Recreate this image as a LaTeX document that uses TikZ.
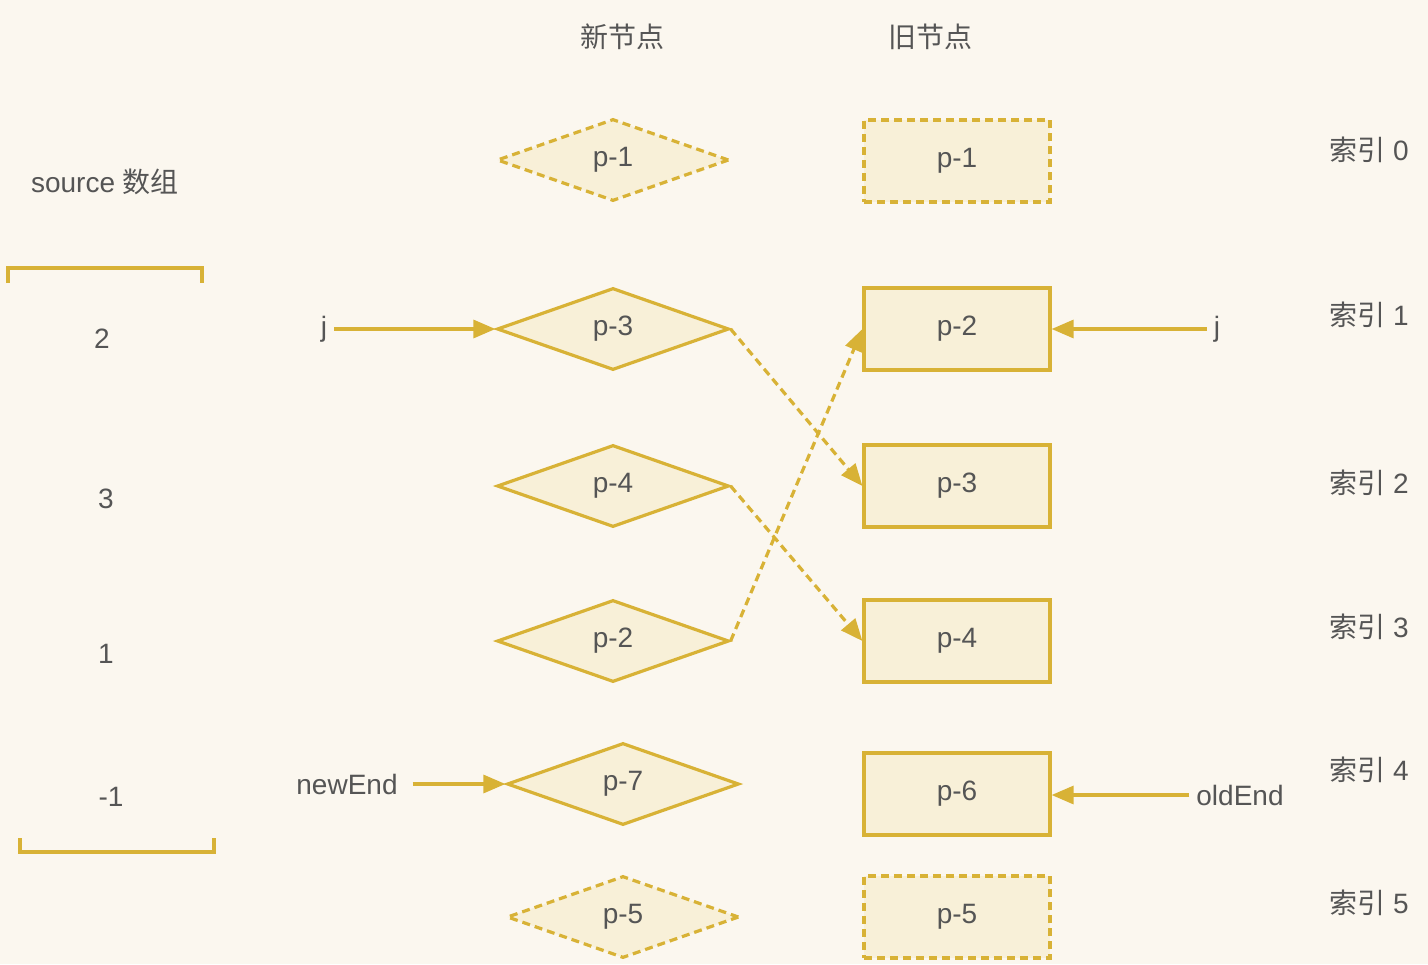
\documentclass[tikz,border=0pt]{standalone}
\usepackage{fontspec}
\setmainfont{Liberation Sans}
\newfontfamily\cjk{Noto Sans CJK SC}
\usetikzlibrary{shapes.geometric,arrows.meta}
\definecolor{bgcream}{HTML}{FBF7EF}
\definecolor{nodeline}{HTML}{D8B236}
\definecolor{nodefill}{HTML}{F8F0D8}
\definecolor{labelgray}{HTML}{555555}
\begin{document}
\begin{tikzpicture}[x = 0.5pt, y = -0.5pt,
        every node/.style = {text = labelgray, font = \fontsize{14}{16}\selectfont},
        newnode/.style = {diamond, draw = nodeline, fill = nodefill, line width = 1.6pt,
                aspect = 2.83, minimum width = 116pt, minimum height = 41pt, inner sep = 0pt},
        oldnode/.style = {rectangle, draw = nodeline, fill = nodefill, line width = 1.6pt,
                minimum width = 93pt, minimum height = 41pt},
        ghost/.style = {dash pattern = on 4pt off 2.5pt},
        pointer/.style = {draw = nodeline, line width = 1.6pt, -{Triangle[length = 11pt, width = 9pt]}},
        move/.style = {pointer, ghost}]

        \fill[bgcream] (0, 0) rectangle (1428, 964);
        \useasboundingbox (0, 0) rectangle (1428, 964);

        \node (newtitle) at (622, 37) {\cjk 新节点};
        \node (oldtitle) at (930, 37) {\cjk 旧节点};

        % new children
        \node[newnode, ghost] (n1) at (613, 160) {p-1};
        \node[newnode] (n3) at (613, 329) {p-3};
        \node[newnode] (n4) at (613, 486) {p-4};
        \node[newnode] (n2) at (613, 641) {p-2};
        \node[newnode] (n7) at (623, 784) {p-7};
        \node[newnode, ghost] (n5) at (623, 917) {p-5};

        % old children
        \node[oldnode, ghost] (o1) at (957, 161) {p-1};
        \node[oldnode] (o2) at (957, 329) {p-2};
        \node[oldnode] (o3) at (957, 486) {p-3};
        \node[oldnode] (o4) at (957, 641) {p-4};
        \node[oldnode] (o6) at (957, 794) {p-6};
        \node[oldnode, ghost] (o5) at (957, 917) {p-5};

        \foreach \i/\y in {0/150, 1/315, 2/483, 3/627, 4/770, 5/903}{
                \node (idx\i) at (1369, \y) {{\cjk 索引} \i};
            }

        % source array
        \node (srctitle) at (105, 182) {source {\cjk 数组}};
        \draw[nodeline, line width = 1.6pt] (8, 283) -- (8, 268) -- (202, 268) -- (202, 283);
        \draw[nodeline, line width = 1.6pt] (20, 838) -- (20, 852) -- (214, 852) -- (214, 838);

        \foreach \v/\x/\y [count = \k] in {2/102/339, 3/106/499, 1/106/654, -1/111/797}{
                \node (src\k) at (\x, \y) {\v};
            }

        % pointers
        \node (jnew) at (324, 329) {j};
        \node (jold) at (1217, 329) {j};
        \node (newend) at (347, 784) {newEnd};
        \node (oldend) at (1240, 795) {oldEnd};

        \draw[pointer] (jnew) -- (n3);
        \draw[pointer] (jold) -- (o2);
        \draw[pointer, shorten < = 4pt] (newend) -- (n7);
        \draw[pointer] (oldend) -- (o6.east |- oldend);

        \draw[move] (n3.east) -- (o3.west);
        \draw[move] (n4.east) -- (o4.west);
        \draw[move] (n2.east) -- (o2.west);

    \end{tikzpicture}
\end{document}
